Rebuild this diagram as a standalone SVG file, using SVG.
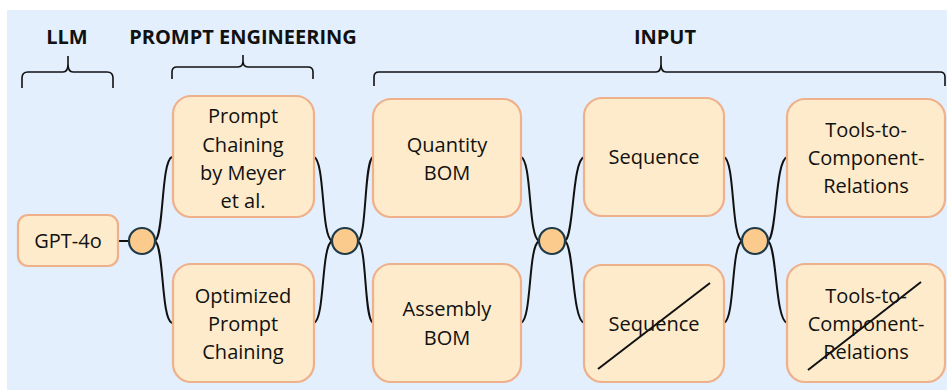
<svg xmlns="http://www.w3.org/2000/svg" width="947" height="390" viewBox="0 0 947 390">
<style>
.bg{fill:#e3effc}
.box{fill:#fdebcb;stroke:#efb08c;stroke-width:2.2}
.dot{fill:#fbcb8e;stroke:#1f3a48;stroke-width:2.2}
.wire{fill:none;stroke:#111;stroke-width:2}
.brace{fill:none;stroke:#111;stroke-width:1.6}
.strike{stroke:#111;stroke-width:2}
.t{font-family:"Open Sans","Liberation Sans",sans-serif;font-size:20px;fill:#111;text-anchor:middle}
.h{font-family:"Open Sans","Liberation Sans",sans-serif;font-size:20px;font-weight:bold;fill:#111;text-anchor:middle}
</style>
<rect class="bg" x="7" y="10" width="940" height="380"/>

<g id="headers">
<text class="h" x="67" y="44">LLM</text>
<text class="h" x="243" y="44">PROMPT ENGINEERING</text>
<text class="h" x="665" y="44">INPUT</text>
<path class="brace" d="M22,88 V78 Q22,72 28,72 H63 Q68,72 68,64 V56 M68,64 Q68,72 73,72 H107 Q113,72 113,78 V88"/>
<path class="brace" d="M172,79 V72 Q172,67 177,67 H238 Q243,67 243,61 V55 M243,61 Q243,67 248,67 H308 Q313,67 313,72 V79"/>
<path class="brace" d="M374,86 V77 Q374,72 379,72 H656 Q661,72 661,64 V56 M661,64 Q661,72 666,72 H940 Q945,72 945,77 V86"/>
</g>

<g id="connectors">
<path class="wire" d="M118,241 H129"/>
<path class="wire" d="M155,241 C164,236 161,161 172,157"/>
<path class="wire" d="M155,241 C164,246 161,319 172,323"/>
<path class="wire" d="M314,157 C325,161 321,236 332,241"/>
<path class="wire" d="M314,323 C325,319 321,246 332,241"/>
<path class="wire" d="M358,241 C367,236 364,161 373,157"/>
<path class="wire" d="M358,241 C367,246 364,319 373,323"/>
<path class="wire" d="M521,157 C532,161 528,236 539,241"/>
<path class="wire" d="M521,323 C532,319 528,246 539,241"/>
<path class="wire" d="M565,241 C574,236 572,161 584,157"/>
<path class="wire" d="M565,241 C574,246 572,319 584,323"/>
<path class="wire" d="M724,157 C735,161 731,236 742,241"/>
<path class="wire" d="M724,323 C735,319 731,246 742,241"/>
<path class="wire" d="M768,241 C777,236 775,161 787,157"/>
<path class="wire" d="M768,241 C777,246 775,319 787,323"/>
</g>

<g id="gpt4o">
<rect class="box" x="18" y="215" width="100" height="51" rx="10"/>
<text class="t" x="68" y="248">GPT-4o</text>
</g>
<g id="join1"><circle class="dot" cx="142" cy="241" r="13"/></g>

<g id="prompt-chaining">
<rect class="box" x="173" y="96" width="141" height="121" rx="18"/>
<text class="t" x="243" y="123">Prompt</text>
<text class="t" x="243" y="152">Chaining</text>
<text class="t" x="243" y="180">by Meyer</text>
<text class="t" x="243" y="208">et al.</text>
</g>
<g id="optimized-prompt-chaining">
<rect class="box" x="173" y="264" width="141" height="118" rx="18"/>
<text class="t" x="243" y="303">Optimized</text>
<text class="t" x="243" y="331">Prompt</text>
<text class="t" x="243" y="359">Chaining</text>
</g>
<g id="join2"><circle class="dot" cx="345" cy="241" r="13"/></g>

<g id="quantity-bom">
<rect class="box" x="373" y="99" width="148" height="118" rx="18"/>
<text class="t" x="447" y="152">Quantity</text>
<text class="t" x="447" y="180">BOM</text>
</g>
<g id="assembly-bom">
<rect class="box" x="373" y="264" width="148" height="118" rx="18"/>
<text class="t" x="447" y="316">Assembly</text>
<text class="t" x="447" y="345">BOM</text>
</g>
<g id="join3"><circle class="dot" cx="552" cy="241" r="13"/></g>

<g id="sequence">
<rect class="box" x="584" y="98" width="140" height="118" rx="18"/>
<text class="t" x="654" y="164">Sequence</text>
</g>
<g id="sequence-struck">
<rect class="box" x="584" y="265" width="140" height="117" rx="18"/>
<text class="t" x="654" y="331">Sequence</text>
<line class="strike" x1="598" y1="369" x2="710" y2="283"/>
</g>
<g id="join4"><circle class="dot" cx="755" cy="241" r="13"/></g>

<g id="tools">
<rect class="box" x="787" y="99" width="158" height="118" rx="18"/>
<text class="t" x="866" y="137">Tools-to-</text>
<text class="t" x="866" y="165">Component-</text>
<text class="t" x="866" y="193">Relations</text>
</g>
<g id="tools-struck">
<rect class="box" x="787" y="264" width="158" height="118" rx="18"/>
<text class="t" x="866" y="303">Tools-to-</text>
<text class="t" x="866" y="331">Component-</text>
<text class="t" x="866" y="359">Relations</text>
<line class="strike" x1="808" y1="370" x2="921" y2="282"/>
</g>
</svg>
